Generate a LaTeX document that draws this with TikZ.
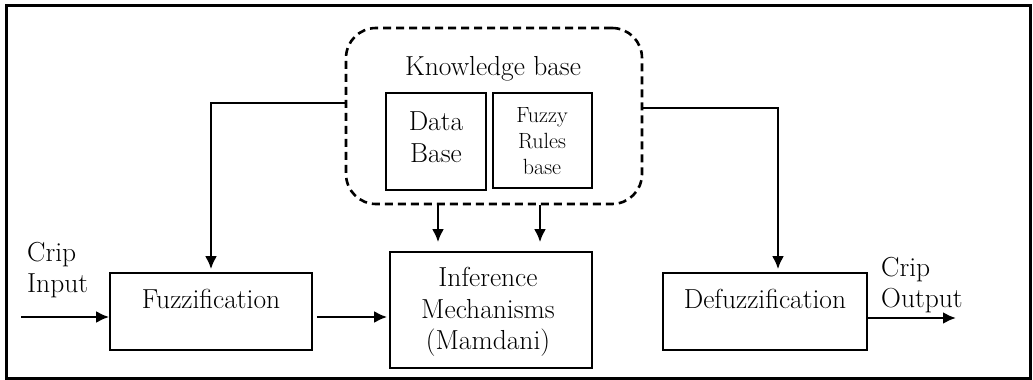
\documentclass[tikz,border=0pt]{standalone}
\usetikzlibrary{arrows.meta,calc}
\begin{document}
\begin{tikzpicture}[x=1pt,y=-1pt,
  box/.style={draw,line width=1.6pt,inner sep=0pt},
  txt/.style={font=\fontsize{27.5}{31.5}\selectfont,align=center,inner sep=0pt},
  small/.style={font=\fontsize{22}{26}\selectfont,align=center,inner sep=0pt},
  arr/.style={line width=2.6pt,-{Latex[length=13pt,width=12pt]}},
  feed/.style={line width=2.6pt,-{Latex[length=13pt,width=12pt]},rounded corners=0pt}]
  \useasboundingbox (0,0) rectangle (1033,380);
  % outer frame
  \draw[line width=3pt] (6,5) rectangle (1030,378);
  % knowledge base with its two stores
  \node[draw,line width=2.6pt,dash pattern=on 8pt off 5pt,rounded corners=30pt,
        minimum width=296pt,minimum height=176pt,inner sep=0pt] (kb) at (494,116) {};
  \node[txt] (kbt) at (493,69) {Knowledge base};
  \node[box,minimum width=100pt,minimum height=97pt] (db) at (436,141.5) {};
  \node[txt] (dbt) at (436,137) {Data\\Base};
  \node[box,minimum width=99pt,minimum height=95pt] (fr) at (542.5,140.5) {};
  \node[small] (frt) at (542,141) {Fuzzy\\Rules\\base};
  % processing blocks
  \node[box,minimum width=202pt,minimum height=77pt] (fuzz) at (211,311.5) {};
  \node[txt] (fuzzt) at (211,299) {Fuzzification};
  \node[box,minimum width=202pt,minimum height=116pt] (inf) at (491,310) {};
  \node[txt] (inft) at (488,312) {Inference\\Mechanisms\\(Mamdani)};
  \node[box,minimum width=204pt,minimum height=77pt] (defuzz) at (765,311.5) {};
  \node[txt] (defuzzt) at (765,299) {Defuzzification};
  % crisp input / output labels
  \node[txt,align=left,anchor=west] (cin) at (27,270) {Crip\\Input};
  \node[txt,align=left,anchor=west] (cout) at (881,285) {Crip\\Output};
  \coordinate (inpt) at (21,317);
  \coordinate (outpt) at (956,318);
  \coordinate (fzout) at ([yshift=-5.5pt]fuzz.east);
  % connectors
  \draw[arr] (inpt) -- (fuzz.west |- inpt);
  \draw[arr,shorten <=4pt,shorten >=2pt] (fzout) -- (inf.west |- fzout);
  \draw[arr] (defuzz.east |- outpt) -- (outpt);
  \draw[feed,shorten >=3pt] ([yshift=13pt]kb.west) -| (fuzz.north);
  \draw[feed,shorten >=3pt] ([yshift=8pt]kb.east) -| ([xshift=13pt]defuzz.north);
  \draw[arr,shorten >=9pt] ([xshift=2pt]db.south |- kb.south) -- ([xshift=2pt]db.south |- inf.north);
  \draw[arr,shorten >=9pt] ([xshift=-2.5pt]fr.south |- kb.south) -- ([xshift=-2.5pt]fr.south |- inf.north);
\end{tikzpicture}
\end{document}
